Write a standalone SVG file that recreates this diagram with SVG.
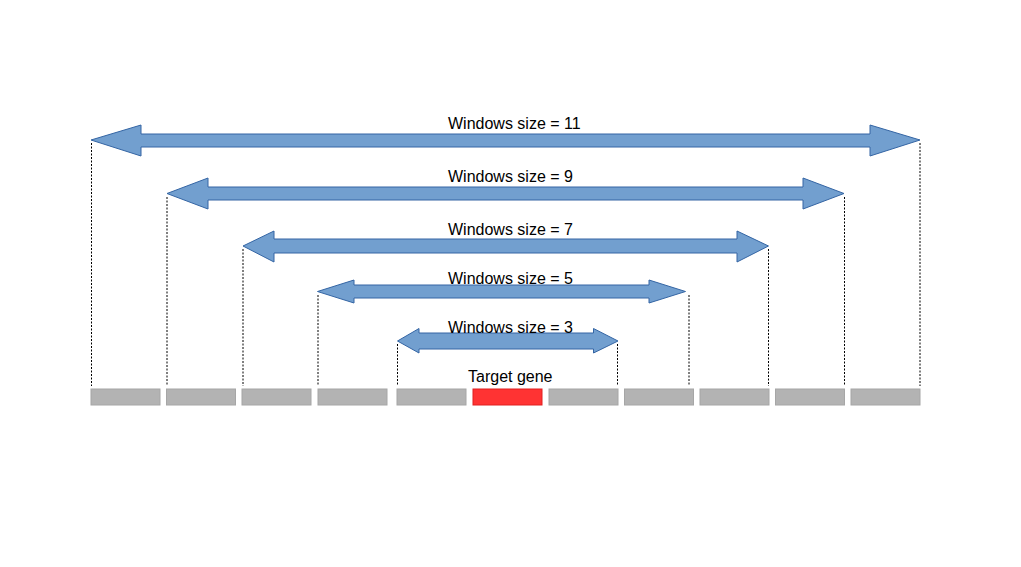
<svg xmlns="http://www.w3.org/2000/svg" width="1021" height="567" viewBox="0 0 1021 567">
<style>
.arrow{fill:#729fcf;stroke:#3465a4;stroke-width:1}
.box{fill:#b3b3b3;stroke:#a6a6a6;stroke-width:1}
.target{fill:#ff3333;stroke:#e02020;stroke-width:1}
.guide{stroke:#000;stroke-width:1;stroke-dasharray:2,1.5;fill:none}
.lbl{font-family:"Liberation Sans",Arial,sans-serif;font-size:16px;fill:#000}
</style>
<rect width="1021" height="567" fill="#fff"/>
<g id="connectors">
<line class="guide" x1="91.5" y1="143" x2="91.5" y2="386"/>
<line class="guide" x1="167" y1="197" x2="167" y2="386"/>
<line class="guide" x1="243" y1="249" x2="243" y2="386"/>
<line class="guide" x1="318" y1="295" x2="318" y2="386"/>
<line class="guide" x1="397.5" y1="344" x2="397.5" y2="386"/>
<line class="guide" x1="617.5" y1="344" x2="617.5" y2="386"/>
<line class="guide" x1="689" y1="295" x2="689" y2="386"/>
<line class="guide" x1="768.5" y1="249" x2="768.5" y2="386"/>
<line class="guide" x1="844.5" y1="197" x2="844.5" y2="386"/>
<line class="guide" x1="920" y1="143" x2="920" y2="386"/>
</g>
<g id="arrow11">
<polygon class="arrow" points="91,140 141,125 141,134 870,134 870,125 920,140 870,156 870,147 141,147 141,156"/>
<text class="lbl" x="448" y="129">Windows size = 11</text>
</g>
<g id="arrow9">
<polygon class="arrow" points="167,193.5 208,178 208,187 803,187 803,178 844,193.5 803,209 803,200 208,200 208,209"/>
<text class="lbl" x="448" y="182">Windows size = 9</text>
</g>
<g id="arrow7">
<polygon class="arrow" points="243,246 274,231 274,239 737,239 737,231 768.5,246 737,262 737,253 274,253 274,262"/>
<text class="lbl" x="448" y="235">Windows size = 7</text>
</g>
<g id="arrow5">
<polygon class="arrow" points="317.5,291.5 354,280 354,285 649,285 649,280 685.5,291.5 649,303 649,298 354,298 354,303"/>
<text class="lbl" x="448" y="284">Windows size = 5</text>
</g>
<g id="arrow3">
<polygon class="arrow" points="397.5,341 419,328.5 419,333 593.5,333 593.5,328.5 618,341 593.5,353 593.5,349 419,349 419,353"/>
<text class="lbl" x="448" y="332.5">Windows size = 3</text>
</g>
<g id="genes">
<rect class="box" x="91" y="389" width="69" height="16"/>
<rect class="box" x="166.5" y="389" width="69" height="16"/>
<rect class="box" x="242" y="389" width="69" height="16"/>
<rect class="box" x="318" y="389" width="69" height="16"/>
<rect class="box" x="397" y="389" width="69" height="16"/>
<rect class="box" x="549" y="389" width="69" height="16"/>
<rect class="box" x="624.5" y="389" width="69" height="16"/>
<rect class="box" x="700" y="389" width="69" height="16"/>
<rect class="box" x="775.5" y="389" width="69" height="16"/>
<rect class="box" x="851" y="389" width="69" height="16"/>
</g>
<g id="target">
<rect class="target" x="473" y="389" width="69" height="16"/>
<text class="lbl" x="468" y="382">Target gene</text>
</g>
</svg>
